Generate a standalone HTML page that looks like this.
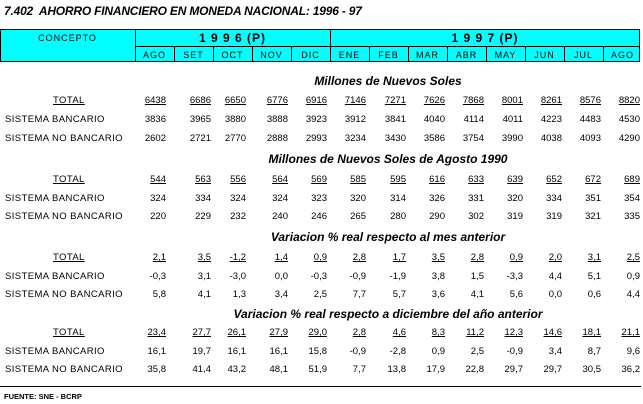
<!DOCTYPE html>
<html><head><meta charset="utf-8"><style>
body{margin:0;width:643px;height:404px;background:#fff;position:relative;overflow:hidden;font-family:"Liberation Sans",Arial,sans-serif;color:#000}
.t{position:absolute;left:4px;top:4px;font-size:12px;font-weight:bold;font-style:italic;letter-spacing:-0.2px}
.hdr{position:absolute;left:0;top:29px;width:640px;height:33px;background:#00ffff;border:1px solid #000;box-sizing:border-box}
.v{position:absolute;background:#000;width:1px}
.h{position:absolute;background:#000;height:1px}
.hl{position:absolute;font-size:9px;letter-spacing:1px;text-align:center}
.yr{position:absolute;font-size:12px;font-weight:bold;text-align:center;letter-spacing:1px}
.sec{position:absolute;left:135px;width:506px;text-align:center;font-size:12px;font-weight:bold;font-style:italic;margin-top:-8px}
.r{position:absolute;left:0;width:643px;height:12px;font-size:9.5px;margin-top:-6px}
.r span{position:absolute;top:0;line-height:12px}
.r .l{left:5px;letter-spacing:0.4px}
.r .tot{left:53px;text-decoration:underline;letter-spacing:0.4px}
.u span{text-decoration:underline}
.r .l,.r .tot{text-align:left}
.a0{right:477px}.a1{right:432px}.a2{right:397px}.a3{right:355px}.a4{right:316px}.a5{right:277px}.a6{right:237px}.a7{right:198px}.a8{right:159px}.a9{right:120px}.a10{right:81px}.a11{right:42px}.a12{right:3px}
.f{position:absolute;left:4px;top:392px;font-size:7.5px;font-weight:bold}
</style></head><body>
<div class="t">7.402&nbsp; AHORRO FINANCIERO EN MONEDA NACIONAL: 1996 - 97</div>
<div class="hdr"></div>
<div class="v" style="left:135px;top:29px;height:33px"></div>
<div class="v" style="left:330px;top:29px;height:33px"></div>
<div class="h" style="left:135px;top:46px;width:505px"></div>
<div class="v" style="left:174px;top:46px;height:16px"></div>
<div class="v" style="left:213px;top:46px;height:16px"></div>
<div class="v" style="left:252px;top:46px;height:16px"></div>
<div class="v" style="left:291px;top:46px;height:16px"></div>
<div class="v" style="left:369px;top:46px;height:16px"></div>
<div class="v" style="left:408px;top:46px;height:16px"></div>
<div class="v" style="left:447px;top:46px;height:16px"></div>
<div class="v" style="left:486px;top:46px;height:16px"></div>
<div class="v" style="left:525px;top:46px;height:16px"></div>
<div class="v" style="left:564px;top:46px;height:16px"></div>
<div class="v" style="left:603px;top:46px;height:16px"></div>
<div class="hl" style="left:0;width:135px;top:33px">CONCEPTO</div>
<div class="yr" style="left:135px;width:195px;top:31px">1 9 9 6 (P)</div>
<div class="yr" style="left:330px;width:310px;top:31px">1 9 9 7 (P)</div>
<div class="hl" style="left:135px;width:39px;top:50px">AGO</div>
<div class="hl" style="left:174px;width:39px;top:50px">SET</div>
<div class="hl" style="left:213px;width:39px;top:50px">OCT</div>
<div class="hl" style="left:252px;width:39px;top:50px">NOV</div>
<div class="hl" style="left:291px;width:39px;top:50px">DIC</div>
<div class="hl" style="left:330px;width:39px;top:50px">ENE</div>
<div class="hl" style="left:369px;width:39px;top:50px">FEB</div>
<div class="hl" style="left:408px;width:39px;top:50px">MAR</div>
<div class="hl" style="left:447px;width:39px;top:50px">ABR</div>
<div class="hl" style="left:486px;width:39px;top:50px">MAY</div>
<div class="hl" style="left:525px;width:39px;top:50px">JUN</div>
<div class="hl" style="left:564px;width:39px;top:50px">JUL</div>
<div class="hl" style="left:603px;width:39px;top:50px">AGO</div>

<div class="sec" style="top:82px">Millones de Nuevos Soles</div>
<div class="r u" style="top:101px"><span class="tot">TOTAL</span><span class="a0">6438</span><span class="a1">6686</span><span class="a2">6650</span><span class="a3">6776</span><span class="a4">6916</span><span class="a5">7146</span><span class="a6">7271</span><span class="a7">7626</span><span class="a8">7868</span><span class="a9">8001</span><span class="a10">8261</span><span class="a11">8576</span><span class="a12">8820</span></div>
<div class="r" style="top:120px"><span class="l">SISTEMA BANCARIO</span><span class="a0">3836</span><span class="a1">3965</span><span class="a2">3880</span><span class="a3">3888</span><span class="a4">3923</span><span class="a5">3912</span><span class="a6">3841</span><span class="a7">4040</span><span class="a8">4114</span><span class="a9">4011</span><span class="a10">4223</span><span class="a11">4483</span><span class="a12">4530</span></div>
<div class="r" style="top:139px"><span class="l">SISTEMA NO BANCARIO</span><span class="a0">2602</span><span class="a1">2721</span><span class="a2">2770</span><span class="a3">2888</span><span class="a4">2993</span><span class="a5">3234</span><span class="a6">3430</span><span class="a7">3586</span><span class="a8">3754</span><span class="a9">3990</span><span class="a10">4038</span><span class="a11">4093</span><span class="a12">4290</span></div>

<div class="sec" style="top:160px">Millones de Nuevos Soles de Agosto 1990</div>
<div class="r u" style="top:180px"><span class="tot">TOTAL</span><span class="a0">544</span><span class="a1">563</span><span class="a2">556</span><span class="a3">564</span><span class="a4">569</span><span class="a5">585</span><span class="a6">595</span><span class="a7">616</span><span class="a8">633</span><span class="a9">639</span><span class="a10">652</span><span class="a11">672</span><span class="a12">689</span></div>
<div class="r" style="top:199px"><span class="l">SISTEMA BANCARIO</span><span class="a0">324</span><span class="a1">334</span><span class="a2">324</span><span class="a3">324</span><span class="a4">323</span><span class="a5">320</span><span class="a6">314</span><span class="a7">326</span><span class="a8">331</span><span class="a9">320</span><span class="a10">334</span><span class="a11">351</span><span class="a12">354</span></div>
<div class="r" style="top:217px"><span class="l">SISTEMA NO BANCARIO</span><span class="a0">220</span><span class="a1">229</span><span class="a2">232</span><span class="a3">240</span><span class="a4">246</span><span class="a5">265</span><span class="a6">280</span><span class="a7">290</span><span class="a8">302</span><span class="a9">319</span><span class="a10">319</span><span class="a11">321</span><span class="a12">335</span></div>

<div class="sec" style="top:238px">Variacion % real respecto al mes anterior</div>
<div class="r u" style="top:258px"><span class="tot">TOTAL</span><span class="a0">2,1</span><span class="a1">3,5</span><span class="a2">-1,2</span><span class="a3">1,4</span><span class="a4">0,9</span><span class="a5">2,8</span><span class="a6">1,7</span><span class="a7">3,5</span><span class="a8">2,8</span><span class="a9">0,9</span><span class="a10">2,0</span><span class="a11">3,1</span><span class="a12">2,5</span></div>
<div class="r" style="top:277px"><span class="l">SISTEMA BANCARIO</span><span class="a0">-0,3</span><span class="a1">3,1</span><span class="a2">-3,0</span><span class="a3">0,0</span><span class="a4">-0,3</span><span class="a5">-0,9</span><span class="a6">-1,9</span><span class="a7">3,8</span><span class="a8">1,5</span><span class="a9">-3,3</span><span class="a10">4,4</span><span class="a11">5,1</span><span class="a12">0,9</span></div>
<div class="r" style="top:295px"><span class="l">SISTEMA NO BANCARIO</span><span class="a0">5,8</span><span class="a1">4,1</span><span class="a2">1,3</span><span class="a3">3,4</span><span class="a4">2,5</span><span class="a5">7,7</span><span class="a6">5,7</span><span class="a7">3,6</span><span class="a8">4,1</span><span class="a9">5,6</span><span class="a10">0,0</span><span class="a11">0,6</span><span class="a12">4,4</span></div>

<div class="sec" style="top:315px">Variacion % real respecto a diciembre del año anterior</div>
<div class="r u" style="top:333px"><span class="tot">TOTAL</span><span class="a0">23,4</span><span class="a1">27,7</span><span class="a2">26,1</span><span class="a3">27,9</span><span class="a4">29,0</span><span class="a5">2,8</span><span class="a6">4,6</span><span class="a7">8,3</span><span class="a8">11,2</span><span class="a9">12,3</span><span class="a10">14,6</span><span class="a11">18,1</span><span class="a12">21,1</span></div>
<div class="r" style="top:352px"><span class="l">SISTEMA BANCARIO</span><span class="a0">16,1</span><span class="a1">19,7</span><span class="a2">16,1</span><span class="a3">16,1</span><span class="a4">15,8</span><span class="a5">-0,9</span><span class="a6">-2,8</span><span class="a7">0,9</span><span class="a8">2,5</span><span class="a9">-0,9</span><span class="a10">3,4</span><span class="a11">8,7</span><span class="a12">9,6</span></div>
<div class="r" style="top:370px"><span class="l">SISTEMA NO BANCARIO</span><span class="a0">35,8</span><span class="a1">41,4</span><span class="a2">43,2</span><span class="a3">48,1</span><span class="a4">51,9</span><span class="a5">7,7</span><span class="a6">13,8</span><span class="a7">17,9</span><span class="a8">22,8</span><span class="a9">29,7</span><span class="a10">29,7</span><span class="a11">30,5</span><span class="a12">36,2</span></div>

<div class="h" style="left:0;top:386px;width:641px;height:1px"></div>
<div class="f">FUENTE: SNE - BCRP</div>
</body></html>
